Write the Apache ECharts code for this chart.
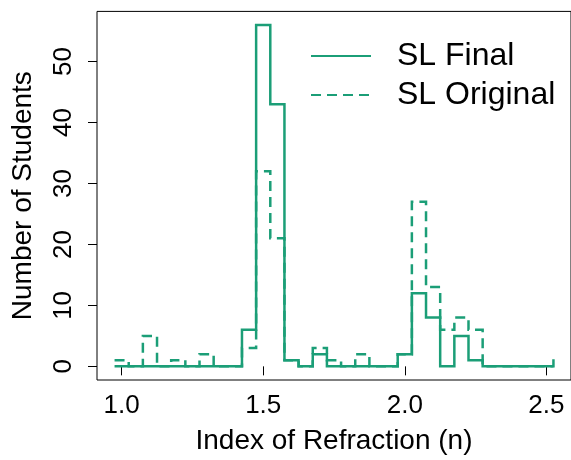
<!DOCTYPE html>
<html>
<head>
<meta charset="utf-8">
<script src="https://cdn.jsdelivr.net/npm/echarts@6/dist/echarts.min.js"></script>
<style>
html,body{margin:0;padding:0;background:#fff;}
#chart{width:571px;height:460px;}
</style>
</head>
<body>
<div id="chart"></div>
<script>
// Step positions (left edge of each 0.05-wide bin; last is the closing edge)
const binEdges = [0.975,1.025,1.075,1.125,1.175,1.225,1.275,1.325,1.375,1.425,
                  1.475,1.525,1.575,1.625,1.675,1.725,1.775,1.825,1.875,1.925,
                  1.975,2.025,2.075,2.125,2.175,2.225,2.275,2.325,2.375,2.425,
                  2.475,2.525];
const slFinal    = [0,0,0,0,0,0,0,0,0,6,56,43,1,0,2,0,0,0,0,0,2,12,8,0,5,1,0,0,0,0,0,0];
const slOriginal = [1,0,5,0,1,0,2,0,0,3,32,21,1,0,3,1,0,2,0,0,2,27,13,6,8,6,0,0,0,0,0,2];
const seriesNames = ['SL Final', 'SL Original'];
const xTicks = [1.0, 1.5, 2.0, 2.5];
const yTicks = [0, 10, 20, 30, 40, 50];
const xTitle = 'Index of Refraction (n)';
const yTitle = 'Number of Students';

const color = '#1b9e77';
const font = 'Liberation Sans, Arial, Helvetica, sans-serif';

function pairs(xs, ys) { return xs.map((x, i) => [x, ys[i]]); }

const chart = echarts.init(document.getElementById('chart'), null, {renderer: 'canvas'});
chart.setOption({
  animation: false,
  backgroundColor: '#fff',
  grid: {
    left: 97, top: 11.4, width: 476, height: 371.6,
    show: true, borderColor: '#000', borderWidth: 1, backgroundColor: 'transparent'
  },
  legend: {
    orient: 'vertical',
    left: 305, top: 35,
    itemWidth: 60, itemHeight: 14, itemGap: 7,
    data: seriesNames,
    itemStyle: {opacity: 0},
    textStyle: {fontFamily: font, fontSize: 32, color: '#000', padding: [0, 0, 0, 21]},
    selectedMode: false
  },
  xAxis: {
    type: 'value',
    min: 0.913, max: 2.587,
    name: xTitle,
    nameLocation: 'middle',
    nameGap: 47,
    nameTextStyle: {fontFamily: font, fontSize: 28, color: '#000'},
    axisLine: {show: false},
    splitLine: {show: false},
    axisTick: {show: true, inside: false, length: 9, customValues: xTicks, lineStyle: {color: '#000', width: 1}},
    axisLabel: {show: true, margin: 13, customValues: xTicks, fontFamily: font, fontSize: 26, color: '#000',
                formatter: v => v.toFixed(1)}
  },
  yAxis: {
    type: 'value',
    min: -2.24, max: 58.24,
    name: yTitle,
    nameLocation: 'middle',
    nameRotate: 90,
    nameGap: 60,
    nameTextStyle: {fontFamily: font, fontSize: 28, color: '#000'},
    axisLine: {show: false},
    splitLine: {show: false},
    axisTick: {show: true, inside: false, length: 9, customValues: yTicks, lineStyle: {color: '#000', width: 1}},
    axisLabel: {show: true, rotate: 90, margin: 20, customValues: yTicks, fontFamily: font, fontSize: 26, color: '#000'}
  },
  series: [
    {
      name: seriesNames[0], type: 'line', step: 'end', showSymbol: false, symbol: 'none',
      data: pairs(binEdges, slFinal),
      lineStyle: {color: color, width: 2.5, type: 'solid', join: 'miter', cap: 'butt'},
      itemStyle: {color: color}
    },
    {
      name: seriesNames[1], type: 'line', step: 'end', showSymbol: false, symbol: 'none',
      data: pairs(binEdges, slOriginal),
      lineStyle: {color: color, width: 2.5, type: [10, 6], join: 'miter', cap: 'butt'},
      itemStyle: {color: color}
    }
  ]
});
</script>
</body>
</html>
